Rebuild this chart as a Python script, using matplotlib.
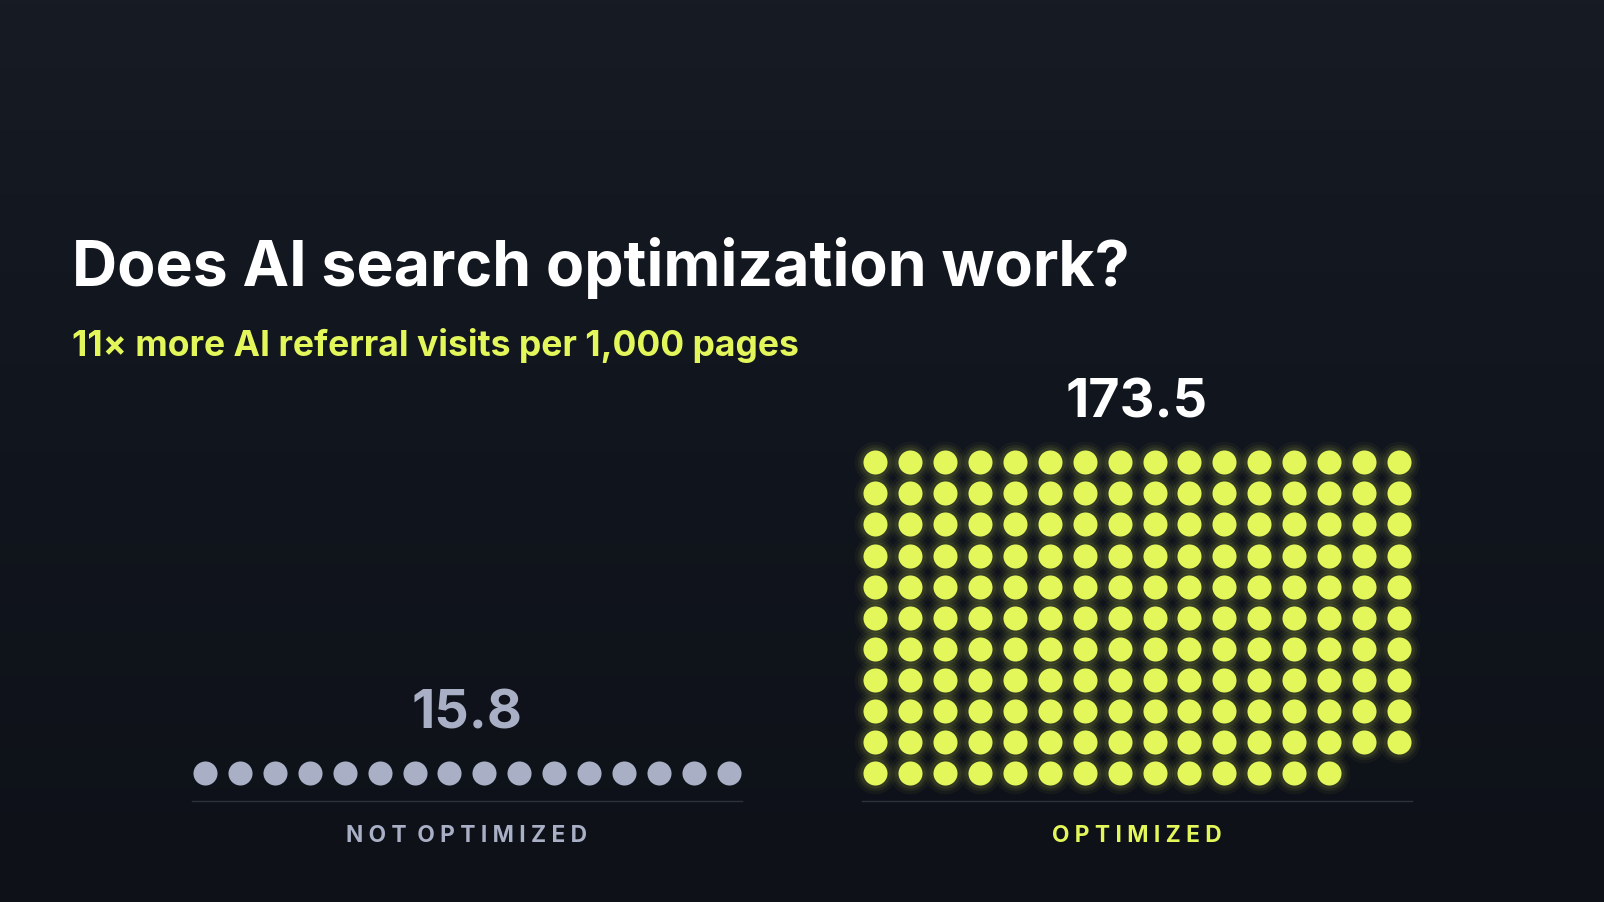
import matplotlib.pyplot as plt
import numpy as np

# data
categories = ['NOT OPTIMIZED', 'OPTIMIZED']
values = [15.8, 173.5]
dot_counts = [16, 174]
cols = 16
title = 'Does AI search optimization work?'
subtitle = '11× more AI referral visits per 1,000 pages'

bg_top = '#0b0e14'
grey = '#a9b0c6'
lime = '#e3f75a'

plt.rcParams['font.family'] = ['Inter', 'DejaVu Sans']

fig = plt.figure(figsize=(16.04, 9.02), dpi=100)
ax = fig.add_axes([0, 0, 1, 1])
ax.set_xlim(0, 1568)
ax.set_ylim(882, 0)
ax.axis('off')

# background gradient
grad = np.linspace(0, 1, 256).reshape(-1, 1)
from matplotlib.colors import LinearSegmentedColormap
cmap = LinearSegmentedColormap.from_list('bg', ['#161b24', '#11151d', '#0e1118'])
ax.imshow(grad, extent=[0, 1568, 882, 0], aspect='auto', cmap=cmap, zorder=0)

k = 1604 / 1568
ax.text(70, 262, title, color='white', fontsize=44 * k, fontweight='bold',
        va='center', ha='left')
ax.text(70, 338, subtitle, color=lime, fontsize=25 * k, fontweight='bold',
        va='center', ha='left')

starts = [200, 855]
dx = 34.2
dy = 30.4
base_y = 756
for i, (cat, v, n) in enumerate(zip(categories, values, dot_counts)):
    color = grey if i == 0 else lime
    rows = int(np.ceil(n / cols))
    xs, ys = [], []
    for j in range(n):
        r = j // cols
        c = j % cols
        # full rows at bottom, partial row on top
        row_from_bottom = (n - 1 - j) // cols if False else None
        xs.append(starts[i] + c * dx)
        ys.append(base_y - (rows - 1 - r) * dy)
    xs = np.array(xs)
    ys = np.array(ys)
    if i == 1:
        for s, a in [(900, 0.04), (650, 0.06), (480, 0.08)]:
            ax.scatter(xs, ys, s=s, color=color, alpha=a, lw=0, zorder=2)
    ax.scatter(xs, ys, s=300, color=color, lw=0, zorder=3)
    left = starts[i] - 12
    right = starts[i] + (cols - 1) * dx + 12
    mid = (left + right) / 2
    ax.plot([left, right], [783, 783], color='#2c313c', lw=1, zorder=2)
    ax.text(mid, 817, ' '.join(cat) .replace('   ', '  '), color=color,
            fontsize=16 * k, fontweight='bold', ha='center', va='center')
    top = ys.min()
    ax.text(mid, top - 57, f'{v:g}', color=('white' if i == 1 else grey),
            fontsize=38 * k, fontweight='bold', ha='center', va='center')

fig.savefig('out.png', dpi=100, facecolor=bg_top)
